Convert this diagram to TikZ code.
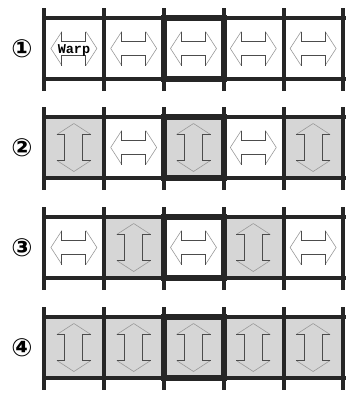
\documentclass[tikz,border=0pt]{standalone}
\usepackage{fontspec}
\setmonofont{Liberation Mono}
\newfontfamily\circfont{DejaVu Sans}
\usetikzlibrary{positioning}

\tikzset{
  frame/.style={draw=black!85, line width=3.6pt},
  midframe/.style={draw=black!85, line width=6.5pt},
  cellfill/.style={fill=black!16},
  tipline/.style={draw=black!40, line width=0.6pt, line join=round},
  barline/.style={draw=black!70, line width=0.9pt},
  rownum/.style={font=\circfont\bfseries\fontsize{25}{25}\selectfont, inner sep=0pt},
  % horizontal double arrow (white cell)
  pics/harrow/.style={code={
    \draw[tipline] (-12,-17) -- (-23,0) -- (-12,17);
    \draw[tipline] (12,-17) -- (23,0) -- (12,17);
    \draw[barline] (-12,-17) -- (-12,-7) -- (12,-7) -- (12,-17);
    \draw[barline] (-12,17) -- (-12,7) -- (12,7) -- (12,17);
  }},
  % vertical double arrow (grey cell)
  pics/varrow/.style={code={
    \draw[tipline] (-17,-13) -- (0,-24) -- (17,-13);
    \draw[tipline] (-17,13) -- (0,24) -- (17,13);
    \draw[barline] (-17,-13) -- (-9,-13) -- (-9,13) -- (-17,13);
    \draw[barline] (17,-13) -- (9,-13) -- (9,13) -- (17,13);
  }},
}

\begin{document}
\begin{tikzpicture}[x=1pt, y=-1pt]

  \useasboundingbox (0,0) rectangle (346,394);

  % --- Righe: numero / cima / schema delle celle (h = bianca, v = grigia) ---
  \foreach \n/\top/\cells [count=\r] in {
      {①}/18/{h,h,h,h,h},
      {②}/117/{v,h,v,h,v},
      {③}/217/{h,v,h,v,h},
      {④}/317/{v,v,v,v,v}}{

    \pgfmathsetmacro{\bot}{\top+61}
    \pgfmathsetmacro{\mid}{\top+30.5}

    % --- Celle ---
    \foreach \c [count=\i] in \cells {
      \pgfmathsetmacro{\xl}{44+(\i-1)*59.8}
      \pgfmathsetmacro{\xc}{\xl+29.9}
      \if v\c
        \fill[cellfill] (\xl,\top) rectangle ++(59.8,61);
        \pic at (\xc,\mid) {varrow};
      \else
        \pic at (\xc,\mid) {harrow};
      \fi
    }

    % --- Telaio ---
    \draw[frame] (44,\top) -- (346,\top);
    \draw[frame] (44,\bot) -- (346,\bot);
    \foreach \x in {44,104,284,343}{
      \draw[frame] (\x,\top-10) -- (\x,\bot+12);
    }
    \foreach \x in {164,224}{
      \draw[frame, line width=4.8pt] (\x,\top-10) -- (\x,\bot+12);
    }
    \draw[midframe] (164,\top) rectangle (224,\bot);

    % --- Numero di riga ---
    \node[rownum] (num\r) at (22,\mid) {\n};
  }

  % --- Etichetta ---
  \node[font=\fontsize{13.5}{13.5}\selectfont\ttfamily\bfseries, inner sep=0pt]
    (warp) at (74,50) {Warp};

\end{tikzpicture}
\end{document}
